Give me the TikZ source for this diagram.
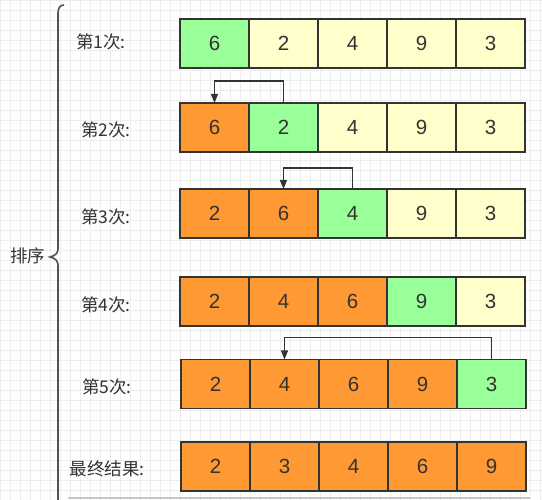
\documentclass[tikz,border=0pt]{standalone}
\usepackage{fontspec}
\setmainfont{Liberation Sans}
\newfontfamily\cjk{Noto Sans CJK SC}
\usetikzlibrary{arrows.meta}
\definecolor{cgreen}{HTML}{99FF99}
\definecolor{cyellow}{HTML}{FFFFCC}
\definecolor{corange}{HTML}{FF9933}
\definecolor{cline}{HTML}{333333}
\definecolor{ctext}{HTML}{333333}
\definecolor{cgrid}{HTML}{EDEDED}
\tikzset{
  x=1pt, y=-1pt,
  cell/.style={draw=cline, line width=1.2pt, minimum width=69pt, minimum height=49pt,
    inner sep=0pt, outer sep=0pt, text=ctext, font=\fontsize{20.5}{20.5}\selectfont},
  gr/.style={cell, fill=cgreen},
  ye/.style={cell, fill=cyellow},
  og/.style={cell, fill=corange},
  lab/.style={text=ctext, font=\cjk\fontsize{17.5}{17.5}\selectfont, inner sep=0pt},
  arr/.style={draw=cline, line width=1.2pt, -{Triangle[length=9pt,width=7pt]}},
  bracepath/.style={draw=cline!85, line width=1.6pt}
}
\begin{document}
\begin{tikzpicture}
\useasboundingbox (0,0) rectangle (542,500);
\fill[white] (0,0) rectangle (542,500);
\draw[cgrid, line width=0.5pt] (0,0) grid[step=10pt] (542,500);
% brace
\draw[bracepath] (64,5) .. controls (60,5) and (58,8) .. (58,13) -- (58,249)
  .. controls (58,253) and (55,256) .. (50,257) .. controls (55,258) and (58,261) .. (58,265) -- (58,500);
\node[lab] (sort) at (28,256) {排序};
% labels
\node[lab] (l1) at (101,42) {第1次:};
\node[lab] (l2) at (106,130) {第2次:};
\node[lab] (l3) at (106,217) {第3次:};
\node[lab] (l4) at (106,305) {第4次:};
\node[lab] (l5) at (107,387) {第5次:};
\node[lab] (l6) at (107,469) {最终结果:};
% row 1
\node[gr] (r1c1) at (214.5,43.5) {6};
\node[ye] (r1c2) at (283.5,43.5) {2};
\node[ye] (r1c3) at (352.5,43.5) {4};
\node[ye] (r1c4) at (421.5,43.5) {9};
\node[ye] (r1c5) at (490.5,43.5) {3};
% row 2
\node[og] (r2c1) at (214.5,127.5) {6};
\node[gr] (r2c2) at (283.5,127.5) {2};
\node[ye] (r2c3) at (352.5,127.5) {4};
\node[ye] (r2c4) at (421.5,127.5) {9};
\node[ye] (r2c5) at (490.5,127.5) {3};
% row 3
\node[og] (r3c1) at (214.5,213.5) {2};
\node[og] (r3c2) at (283.5,213.5) {6};
\node[gr] (r3c3) at (352.5,213.5) {4};
\node[ye] (r3c4) at (421.5,213.5) {9};
\node[ye] (r3c5) at (490.5,213.5) {3};
% row 4
\node[og] (r4c1) at (214.5,301.5) {2};
\node[og] (r4c2) at (283.5,301.5) {4};
\node[og] (r4c3) at (352.5,301.5) {6};
\node[gr] (r4c4) at (421.5,301.5) {9};
\node[ye] (r4c5) at (490.5,301.5) {3};
% row 5
\node[og] (r5c1) at (215.5,384) {2};
\node[og] (r5c2) at (284.5,384) {4};
\node[og] (r5c3) at (353.5,384) {6};
\node[og] (r5c4) at (422.5,384) {9};
\node[gr] (r5c5) at (491.5,384) {3};
% row 6
\node[og] (r6c1) at (215.5,466.5) {2};
\node[og] (r6c2) at (284.5,466.5) {3};
\node[og] (r6c3) at (353.5,466.5) {4};
\node[og] (r6c4) at (422.5,466.5) {6};
\node[og] (r6c5) at (491.5,466.5) {9};
% arrows
\draw[arr] (r2c2.north) -- ++(0,-22) -| (r2c1.north);
\draw[arr] (r3c3.north) -- ++(0,-21) -| (r3c2.north);
\draw[arr] (r5c5.north) -- ++(0,-22) -| (r5c2.north);
% bottom shadow
\draw[gray!45, line width=2pt] (68,498.5) -- (530,498.5);
\end{tikzpicture}
\end{document}
